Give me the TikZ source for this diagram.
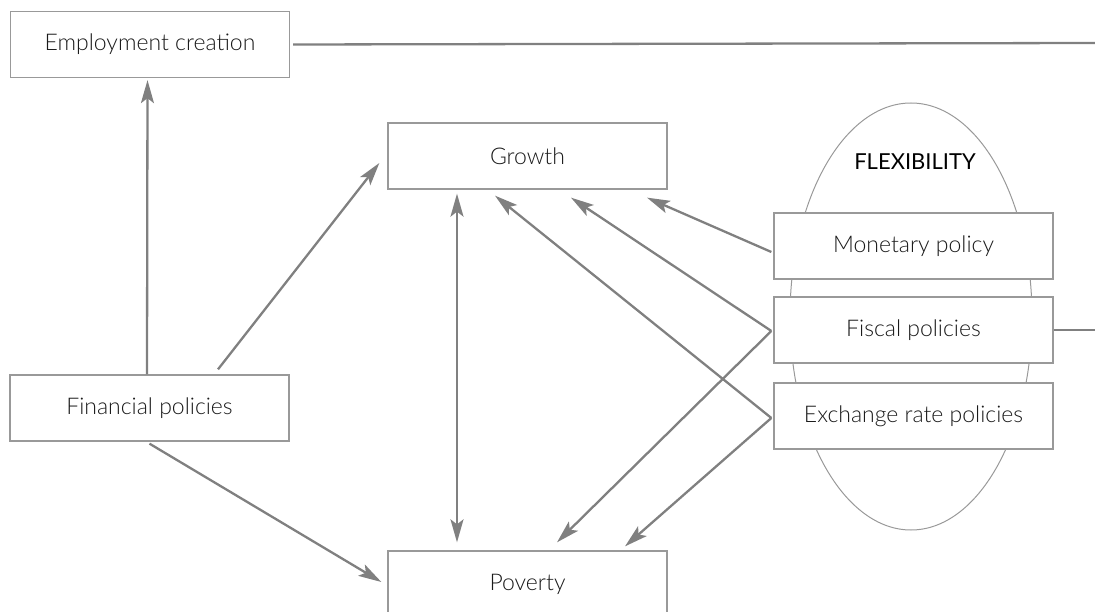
\documentclass[tikz,border=0pt]{standalone}
\usepackage{fontspec}
\setmainfont{Lato}[UprightFont = {* Light}]
\newfontfamily\flexfont{Lato}
\usepackage{tikz}
\usetikzlibrary{arrows.meta, calc}
\definecolor{linegray}{HTML}{808080}
\definecolor{boxgray}{HTML}{999999}
\definecolor{textgray}{HTML}{1A1A1A}

\begin{document}
\begin{tikzpicture}[x=1pt, y=-1pt,
		box/.style = {draw = boxgray, line width = 1.3pt, fill = white, minimum width = 279pt, minimum height = 66pt, text = textgray, font = \fontsize{23}{27}\selectfont, inner sep = 0pt},
		arrow/.style = {draw = linegray, line width = 2.3pt, -{Stealth[length = 23pt, width = 13pt, inset = 5pt]}},
		twoway/.style = {draw = linegray, line width = 2.3pt, {Stealth[length = 23pt, width = 13pt, inset = 5pt]}-{Stealth[length = 23pt, width = 13pt, inset = 5pt]}},
		plain/.style = {draw = linegray, line width = 2.3pt}]
			\useasboundingbox (0, 0) rectangle (1095, 612);
			% flexibility oval
			\draw[boxgray, line width = 1pt] (911, 316.5) ellipse [x radius = 121, y radius = 213.5];
			\node[text = black, font = \flexfont\fontsize{22}{26}\selectfont] (flex) at (915, 162) {FLEXIBILITY};
			% boxes
			\node[box] (emp) at (150, 44.5) {Employment creation};
			\node[box] (growth) at (527.5, 156) {Growth};
			\node[box] (fin) at (149.5, 408) {Financial policies};
			\node[box] (pov) at (527.5, 584) {Poverty};
			\node[box] (mon) at (913.5, 246) {Monetary policy};
			\node[box] (fis) at (913.5, 330) {Fiscal policies};
			\node[box] (exc) at (913.5, 416) {Exchange rate policies};
			% lines out of the picture
			\coordinate (empend) at (1095, 43);
			\coordinate (fisend) at (1095, 330);
			\draw[plain] ([xshift = 3pt]emp.east) -- (empend);
			\draw[plain] (fis.east) -- (fisend);
			% arrows from financial policies
			\draw[arrow] ([xshift = -2.5pt]fin.north) -- ([xshift = -2.5pt, yshift = -2pt]emp.south);
			\draw[arrow] ([xshift = 68.5pt, yshift = 5pt]fin.north) -- ([xshift = -8pt, yshift = -7pt]growth.west);
			\draw[arrow] ([yshift = -2pt]fin.south) -- ([xshift = -6pt, yshift = 2pt]pov.west);
			% growth and poverty
			\draw[twoway] ([xshift = -70.5pt, yshift = -4pt]growth.south) -- ([xshift = -70.5pt, yshift = 8pt]pov.north);
			% arrows from the policies on the right
			\draw[arrow] ([xshift = -2pt, yshift = -6pt]mon.west) -- ([xshift = 119.5pt, yshift = -8pt]growth.south);
			\draw[arrow] ([xshift = -2pt, yshift = -1pt]fis.west) -- ([xshift = 43.5pt, yshift = -8pt]growth.south);
			\draw[arrow] ([xshift = -2pt, yshift = -2pt]exc.west) -- ([xshift = -32.5pt, yshift = -6pt]growth.south);
			\draw[arrow] ([xshift = -2pt, yshift = -1pt]fis.west) -- ([xshift = 29.5pt, yshift = 8pt]pov.north);
			\draw[arrow] ([xshift = -2pt, yshift = -2pt]exc.west) -- ([xshift = 97.5pt, yshift = 4pt]pov.north);
		\end{tikzpicture}
\end{document}
